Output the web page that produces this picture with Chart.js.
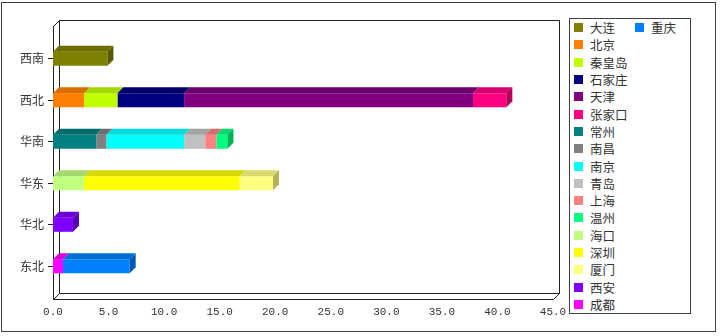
<!DOCTYPE html>
<html>
<head>
<meta charset="utf-8">
<script src="https://cdn.jsdelivr.net/npm/chart.js@4/dist/chart.umd.min.js"></script>
<style>
  body { margin: 0; background: #fff; }
  #wrap { position: relative; width: 720px; height: 336px; }
  #frame { position: absolute; left: 1px; top: 2px; width: 713px; height: 328px; border: 1px solid #404040; }
  #legend {
    position: absolute; left: 569px; top: 18px; width: 120px; height: 294px;
    border: 1px solid #404040; background: #fff;
    display: grid; grid-auto-flow: column;
    grid-template-rows: repeat(17, 17.3px); grid-template-columns: 61px 59px;
    font: 12.5px "Noto Sans CJK SC", sans-serif; color: #333;
  }
  #legend div { display: flex; align-items: center; padding-left: 4px; white-space: nowrap; }
  #legend span { display: inline-block; width: 9px; height: 9px; margin-right: 7px; }
</style>
</head>
<body>
<div id="wrap">
  <canvas id="myChart" width="720" height="336"></canvas>
  <div id="frame"></div>
  <div id="legend"></div>
</div>
<script>
const regions = ['西南', '西北', '华南', '华东', '华北', '东北'];
const cities = ['大连', '北京', '秦皇岛', '石家庄', '天津', '张家口', '常州', '南昌', '南京',
  '青岛', '上海', '温州', '海口', '深圳', '厦门', '西安', '成都', '重庆'];
const cityRegion = ['西南', '西北', '西北', '西北', '西北', '西北', '华南', '华南', '华南',
  '华南', '华南', '华南', '华东', '华东', '华东', '华北', '东北', '东北'];
const cityValue = [4.9, 2.8, 3.0, 6.0, 26.0, 3.0, 3.9, 0.9, 7.0,
  1.9, 1.0, 1.0, 2.8, 14.0, 3.0, 1.8, 0.9, 6.0];
const cityColors = ['#808000', '#ff8000', '#c0ff00', '#000080', '#800080', '#ff0080', '#008080', '#808080', '#00ffff',
  '#c0c0c0', '#ff8080', '#00ff80', '#c0ff80', '#ffff00', '#ffff80', '#8000ff', '#ff00ff', '#0080ff'];
const xTicks = [0, 5, 10, 15, 20, 25, 30, 35, 40, 45];

const depth = 6;

function shade(hex, f) {
  const n = parseInt(hex.slice(1), 16);
  const r = Math.round(((n >> 16) & 255) * f);
  const g = Math.round(((n >> 8) & 255) * f);
  const b = Math.round((n & 255) * f);
  return 'rgb(' + r + ',' + g + ',' + b + ')';
}

// back wall and axes of the 3d box
const box3d = {
  id: 'box3d',
  beforeDatasetsDraw(chart) {
    const a = chart.chartArea;
    const ctx = chart.ctx;
    const top = a.top - 12, bottom = a.bottom + 12;
    ctx.save();
    ctx.strokeStyle = '#202020';
    ctx.lineWidth = 1;
    ctx.beginPath();
    ctx.moveTo(a.left + 0.5, top);
    ctx.lineTo(a.left + 0.5, bottom + 0.5);
    ctx.lineTo(a.right + 0.5, bottom + 0.5);
    ctx.lineTo(a.right + depth + 0.5, bottom - depth + 0.5);
    ctx.lineTo(a.right + depth + 0.5, top - depth + 0.5);
    ctx.lineTo(a.left + depth + 0.5, top - depth + 0.5);
    ctx.lineTo(a.left + depth + 0.5, bottom - depth + 0.5);
    ctx.lineTo(a.right + depth + 0.5, bottom - depth + 0.5);
    ctx.moveTo(a.left + 0.5, top + 0.5);
    ctx.lineTo(a.left + depth + 0.5, top - depth + 0.5);
    ctx.moveTo(a.left + 0.5, bottom + 0.5);
    ctx.lineTo(a.left + depth + 0.5, bottom - depth + 0.5);
    ctx.stroke();
    ctx.restore();
  },
  afterDatasetsDraw(chart) {
    const ctx = chart.ctx;
    ctx.save();
    regions.forEach((r, i) => {
      let last = null;
      chart.data.datasets.forEach((ds, d) => {
        if (ds.data[i] == null) return;
        const bar = chart.getDatasetMeta(d).data[i];
        const p = bar.getProps(['x', 'y', 'base', 'height'], true);
        const t = p.y - p.height / 2;
        const x0 = Math.min(p.base, p.x), x1 = Math.max(p.base, p.x);
        ctx.fillStyle = shade(ds.backgroundColor, 0.85);
        ctx.beginPath();
        ctx.moveTo(x0, t);
        ctx.lineTo(x1, t);
        ctx.lineTo(x1 + depth, t - depth);
        ctx.lineTo(x0 + depth, t - depth);
        ctx.closePath();
        ctx.fill();
        last = { x1, t, b: t + p.height, c: ds.backgroundColor };
      });
      if (last) {
        ctx.fillStyle = shade(last.c, 0.7);
        ctx.beginPath();
        ctx.moveTo(last.x1, last.t);
        ctx.lineTo(last.x1 + depth, last.t - depth);
        ctx.lineTo(last.x1 + depth, last.b - depth);
        ctx.lineTo(last.x1, last.b);
        ctx.closePath();
        ctx.fill();
      }
    });
    ctx.restore();
  }
};

const datasets = cities.map((c, k) => ({
  label: c,
  data: regions.map(r => (r === cityRegion[k] ? cityValue[k] : null)),
  backgroundColor: cityColors[k],
  borderWidth: 0,
  barPercentage: 1,
  categoryPercentage: 0.34
}));

new Chart(document.getElementById('myChart'), {
  type: 'bar',
  data: { labels: regions, datasets: datasets },
  options: {
    indexAxis: 'y',
    responsive: false,
    devicePixelRatio: 1,
    animation: false,
    layout: { padding: { top: 38, right: 167, bottom: 9, left: 0 } },
    plugins: { legend: { display: false }, tooltip: { enabled: false } },
    scales: {
      x: {
        stacked: true,
        min: xTicks[0],
        max: xTicks[xTicks.length - 1],
        afterBuildTicks: s => { s.ticks = xTicks.map(v => ({ value: v })); },
        grid: { display: false, drawTicks: false },
        border: { display: false },
        ticks: {
          padding: 18,
          color: '#333',
          font: { family: 'Liberation Mono', size: 11 },
          callback: v => Number(v).toFixed(1)
        },
        afterFit: s => { s.height = 40; }
      },
      y: {
        stacked: true,
        grid: { drawOnChartArea: false, offset: false, tickLength: 5, color: '#202020' },
        border: { display: false },
        ticks: {
          padding: 4,
          color: '#333',
          font: { family: 'Noto Sans CJK SC', size: 12 }
        },
        afterFit: s => { s.width = 53; }
      }
    }
  },
  plugins: [box3d]
});

const legend = document.getElementById('legend');
cities.forEach((c, k) => {
  const item = document.createElement('div');
  item.innerHTML = '<span style="background:' + cityColors[k] + '"></span>' + c;
  legend.appendChild(item);
});
</script>
</body>
</html>
